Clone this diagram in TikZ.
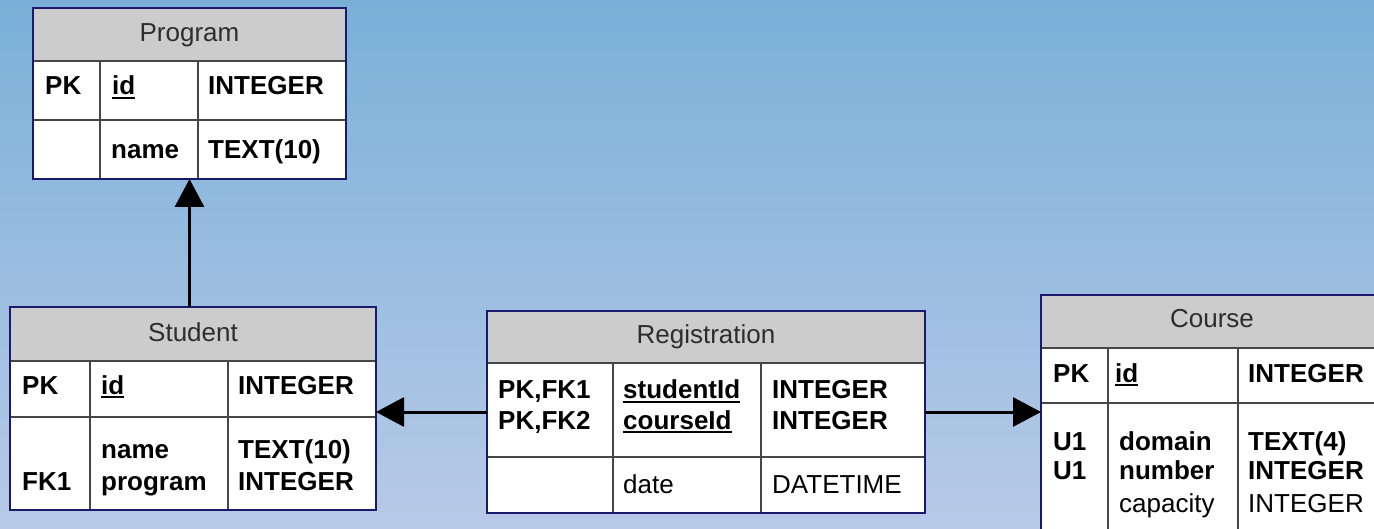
\documentclass[tikz,border=0pt]{standalone}
\usepackage{fontspec}
\setmainfont{Liberation Sans}
\usetikzlibrary{arrows.meta}
\definecolor{bgtop}{RGB}{122,176,216}
\definecolor{bgmid}{RGB}{150,181,225}
\definecolor{bgbot}{RGB}{184,202,232}
\definecolor{navy}{RGB}{25,25,110}
\definecolor{gridc}{RGB}{70,70,70}
\definecolor{headfill}{RGB}{204,204,204}
\definecolor{headtext}{RGB}{45,45,45}
\newsavebox\ulbox
\newcommand\myul[1]{\sbox\ulbox{#1}\rlap{\rule[-4.2pt]{\wd\ulbox}{1.8pt}}\usebox\ulbox}
\begin{document}
\begin{tikzpicture}[x=1pt,y=-1pt,
  tbox/.style={draw=navy, line width=2pt, fill=white, anchor=north west, inner sep=0pt, outer sep=0pt},
  hbox/.style={draw=gridc, line width=1.6pt, fill=headfill, anchor=north west, inner sep=0pt, outer sep=0pt},
  gridline/.style={draw=gridc, line width=1.6pt},
  hd/.style={font=\fontsize{26}{30}\selectfont, text=headtext, anchor=base, inner sep=0pt},
  cb/.style={font=\fontsize{26}{30}\selectfont\bfseries, anchor=base west, inner sep=0pt},
  cr/.style={font=\fontsize{26}{30}\selectfont, anchor=base west, inner sep=0pt},
  conn/.style={line width=3pt, -{Triangle[length=28pt,width=29pt]}}]
\clip (0,0) rectangle (1374,529);
\shade[top color=bgtop, middle color=bgmid, bottom color=bgbot] (0,0) rectangle (1374,529);

% ---------- Program ----------
\node[tbox, minimum width=313pt, minimum height=171pt] (program) at (33,8) {};
\node[hbox, minimum width=313pt, minimum height=53pt] (programhead) at (33,8) {};
\draw[gridline] (33,120) -- (346,120);
\draw[gridline] (100,61) -- (100,179);
\draw[gridline] (198,61) -- (198,179);
\draw[navy, line width=2pt] (33,8) rectangle (346,179);
\node[hd] (programtitle) at (189.5,42) {Program};
\node[cb] (p1) at (45,95) {PK};
\node[cb] (p2) at (112,95) {\myul{id}};
\node[cb] (p3) at (208,95) {INTEGER};
\node[cb] (p4) at (111,159) {name};
\node[cb] (p5) at (208,159) {TEXT(10)};

% ---------- Student ----------
\node[tbox, minimum width=366pt, minimum height=203pt] (student) at (10,307) {};
\node[hbox, minimum width=366pt, minimum height=54pt] (studenthead) at (10,307) {};
\draw[gridline] (10,417) -- (376,417);
\draw[gridline] (90,361) -- (90,510);
\draw[gridline] (228,361) -- (228,510);
\draw[navy, line width=2pt] (10,307) rectangle (376,510);
\node[hd] (studenttitle) at (193,342) {Student};
\node[cb] (s1) at (22,394) {PK};
\node[cb] (s2) at (101,394) {\myul{id}};
\node[cb] (s3) at (238,394) {INTEGER};
\node[cb] (s4) at (101,458) {name};
\node[cb] (s5) at (101,490) {program};
\node[cb] (s6) at (22,490) {FK1};
\node[cb] (s7) at (238,458) {TEXT(10)};
\node[cb] (s8) at (238,490) {INTEGER};

% ---------- Registration ----------
\node[tbox, minimum width=438pt, minimum height=202pt] (registration) at (487,311) {};
\node[hbox, minimum width=438pt, minimum height=52pt] (registrationhead) at (487,311) {};
\draw[gridline] (487,457) -- (925,457);
\draw[gridline] (613,363) -- (613,513);
\draw[gridline] (761,363) -- (761,513);
\draw[navy, line width=2pt] (487,311) rectangle (925,513);
\node[hd] (registrationtitle) at (706,344) {Registration};
\node[cb] (r1) at (498,399) {PK,FK1};
\node[cb] (r2) at (498,429) {PK,FK2};
\node[cb] (r3) at (623,399) {\myul{studentId}};
\node[cb] (r4) at (623,429) {\myul{courseId}};
\node[cb] (r5) at (772,399) {INTEGER};
\node[cb] (r6) at (772,429) {INTEGER};
\node[cr] (r7) at (623,493) {date};
\node[cr] (r8) at (772,493) {DATETIME};

% ---------- Course ----------
\node[tbox, minimum width=342pt, minimum height=250pt] (course) at (1041,295) {};
\node[hbox, minimum width=342pt, minimum height=53pt] (coursehead) at (1041,295) {};
\draw[gridline] (1041,403) -- (1383,403);
\draw[gridline] (1108,348) -- (1108,545);
\draw[gridline] (1238,348) -- (1238,545);
\draw[navy, line width=2pt] (1041,295) rectangle (1383,545);
\node[hd] (coursetitle) at (1212,328) {Course};
\node[cb] (c1) at (1053,382) {PK};
\node[cb] (c2) at (1115,382) {\myul{id}};
\node[cb] (c3) at (1248,382) {INTEGER};
\node[cb] (c4) at (1053,450) {U1};
\node[cb] (c5) at (1053,479) {U1};
\node[cb] (c6) at (1119,450) {domain};
\node[cb] (c7) at (1119,479) {number};
\node[cr] (c8) at (1119,512) {capacity};
\node[cb] (c9) at (1248,450) {TEXT(4)};
\node[cb] (c10) at (1248,479) {INTEGER};
\node[cr] (c11) at (1248,512) {INTEGER};

% ---------- connectors ----------
\draw[conn] (program.south |- student.north) -- (program.south);
\draw[conn] (registration.west) -- (registration.west -| student.east);
\draw[conn] (registration.east) -- (registration.east -| course.west);
\end{tikzpicture}
\end{document}
